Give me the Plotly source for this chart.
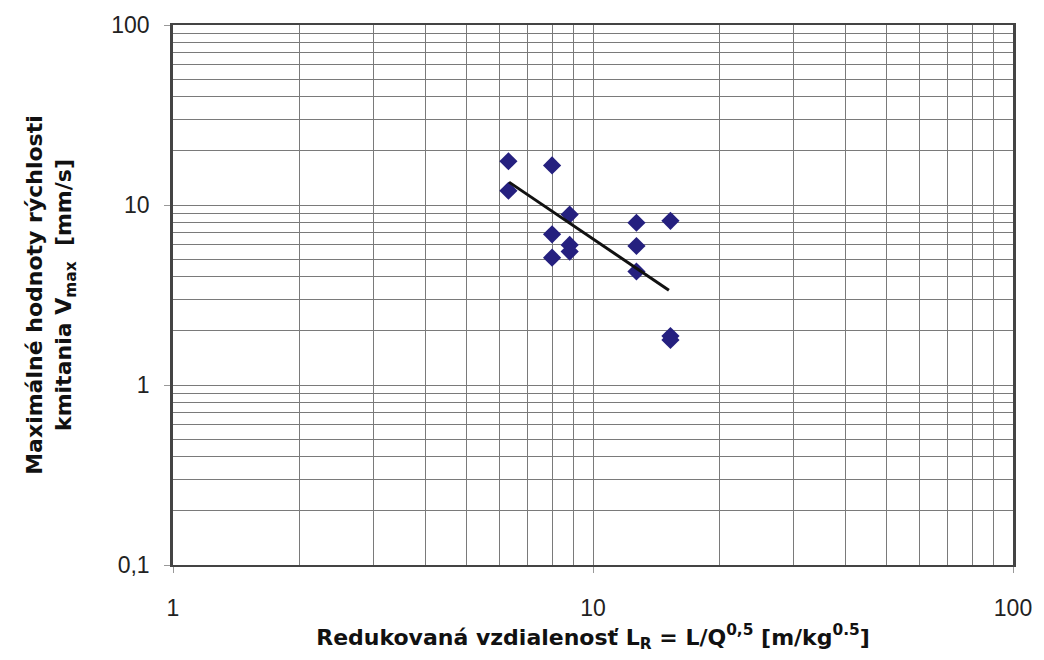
import plotly.graph_objects as go

# Measured points: reduced distance L_R and peak particle velocity V_max
lr = [6.29, 7.99, 6.29, 8.80, 12.69, 15.29, 7.99, 8.80, 8.80, 12.69, 7.99, 12.69, 15.29, 15.29]
vmax = [17.5, 16.6, 12.0, 8.85, 7.97, 8.17, 6.87, 6.00, 5.51, 5.92, 5.10, 4.27, 1.87, 1.78]

# Power-law trend line end points
trend_x = [6.31, 15.16]
trend_y = [13.4, 3.36]

x_major = [1, 10, 100]
x_major_text = ["1", "10", "100"]
y_major = [0.1, 1, 10, 100]
y_major_text = ["0,1", "1", "10", "100"]

x_minor = [m * d for d in (1, 10) for m in range(2, 10)]
y_minor = [m * d for d in (0.1, 1, 10) for m in range(2, 10)]

fig = go.Figure()
fig.add_trace(go.Scatter(
    x=lr, y=vmax, mode="markers",
    marker=dict(symbol="diamond", size=14, color="#25207f",
                line=dict(width=0)),
    showlegend=False,
))
fig.add_trace(go.Scatter(
    x=trend_x, y=trend_y, mode="lines",
    line=dict(color="#111111", width=3),
    showlegend=False,
))

grid_col = "#7a7a7a"
tick_font = dict(family="Liberation Sans, Arial, sans-serif", size=23, color="#222222")
title_font = dict(family="DejaVu Sans, Verdana, sans-serif", size=22, color="#111111")

fig.update_xaxes(
    type="log", range=[0, 2],
    tickvals=x_major, ticktext=x_major_text,
    showgrid=True, gridcolor=grid_col, gridwidth=1,
    minor=dict(tickvals=x_minor, showgrid=True, gridcolor=grid_col, gridwidth=1, ticks=""),
    showline=True, linecolor="#444444", linewidth=1.5, mirror=True,
    ticks="outside", ticklen=6, tickcolor="#999999",
    ticklabelstandoff=16,
    tickfont=tick_font,
    zeroline=False,
    title=dict(text="<b>Redukovaná vzdialenosť L<sub>R</sub> = L/Q<sup>0,5</sup> [m/kg<sup>0.5</sup>]</b>",
               font=title_font, standoff=8),
)
fig.update_yaxes(
    type="log", range=[-1, 2],
    tickvals=y_major, ticktext=y_major_text,
    showgrid=True, gridcolor=grid_col, gridwidth=1,
    minor=dict(tickvals=y_minor, showgrid=True, gridcolor=grid_col, gridwidth=1, ticks=""),
    showline=True, linecolor="#444444", linewidth=2.5, mirror=True,
    ticks="outside", ticklen=6, tickcolor="#999999",
    ticklabelstandoff=10,
    tickfont=tick_font,
    zeroline=False,
    title=dict(text="<b>Maximálné hodnoty rýchlosti<br>kmitania V<sub>max</sub>  [mm/s]</b>",
               font=title_font, standoff=34),
)

fig.update_layout(
    width=1044, height=660,
    margin=dict(l=173, r=25, t=22, b=95),
    paper_bgcolor="white", plot_bgcolor="white",
)

fig.write_html("out.html")
